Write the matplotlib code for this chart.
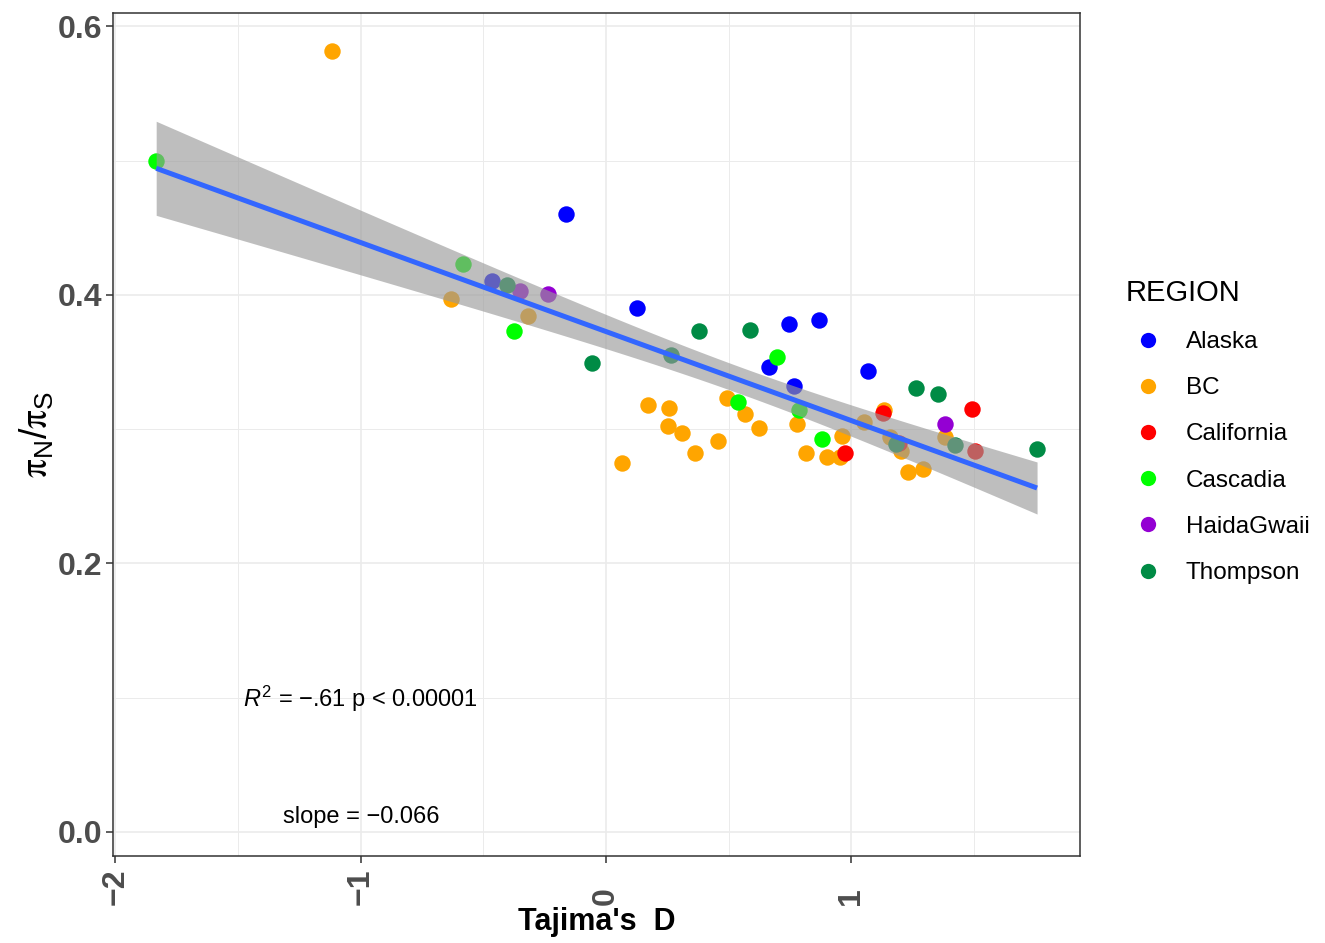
import matplotlib
matplotlib.use("Agg")
import matplotlib.pyplot as plt
from matplotlib.lines import Line2D
import numpy as np

plt.rcParams["font.family"] = ["Liberation Sans", "DejaVu Sans"]
plt.rcParams["mathtext.fontset"] = "custom"
plt.rcParams["mathtext.rm"] = "Liberation Sans"
plt.rcParams["mathtext.it"] = "Liberation Sans:italic"
plt.rcParams["mathtext.sf"] = "Liberation Sans"
plt.rcParams["mathtext.tt"] = "STIXGeneral"   # used only for the serif pi

# ---------------------------------------------------------------------------
# data (Tajima's D vs piN/piS)
REGIONS = ["Alaska", "BC", "California", "Cascadia", "HaidaGwaii", "Thompson"]
COLORS = ["#0000FF", "#FFA500", "#FF0000", "#00FF00", "#9400D3", "#008B45"]

alaska_x = [-0.163, 0.126, 0.665, 0.746, 0.868, 0.766, 1.068, -0.465]
alaska_y = [0.460, 0.390, 0.346, 0.378, 0.381, 0.332, 0.343, 0.410]

bc_x = [-1.117, -0.632, -0.318, 0.065, 0.171, 0.257, 0.253, 0.310, 0.363,
        0.457, 0.493, 0.567, 0.624, 0.779, 0.815, 0.901, 0.954, 0.962,
        1.052, 1.133, 1.158, 1.203, 1.231, 1.292, 1.382]
bc_y = [0.582, 0.397, 0.384, 0.275, 0.318, 0.316, 0.302, 0.297, 0.282,
        0.291, 0.323, 0.311, 0.301, 0.304, 0.282, 0.279, 0.279, 0.295,
        0.305, 0.314, 0.294, 0.284, 0.268, 0.270, 0.294]

california_x = [0.974, 1.129, 1.492, 1.504, 1.195]
california_y = [0.282, 0.312, 0.315, 0.284, 0.290]

cascadia_x = [-1.834, -0.583, -0.375, 0.697, 0.538, 0.787, 0.881]
cascadia_y = [0.500, 0.423, 0.373, 0.354, 0.320, 0.314, 0.293]

haida_x = [-0.351, -0.236, 1.382]
haida_y = [0.403, 0.401, 0.304]

thompson_x = [-0.404, -0.057, 0.265, 0.379, 0.587, 1.264, 1.353, 1.423,
              1.757, 1.182]
thompson_y = [0.407, 0.349, 0.355, 0.373, 0.374, 0.331, 0.326, 0.288,
              0.285, 0.289]

GROUPS_X = [alaska_x, bc_x, california_x, cascadia_x, haida_x, thompson_x]
GROUPS_Y = [alaska_y, bc_y, california_y, cascadia_y, haida_y, thompson_y]

X_TICKS = [-2, -1, 0, 1]
Y_TICKS = [0.0, 0.2, 0.4, 0.6]

# ---------------------------------------------------------------------------
fig = plt.figure(figsize=(13.25, 9.43), dpi=100)
ax = fig.add_axes([113 / 1325, 87 / 943, (1080 - 113) / 1325, (856 - 13) / 943])

for gx, gy, col in zip(GROUPS_X, GROUPS_Y, COLORS):
    ax.scatter(gx, gy, s=140, color=col, linewidths=0, zorder=2)

# linear fit with 95% confidence band (geom_smooth(method="lm"))
x_all = np.concatenate([np.asarray(g, float) for g in GROUPS_X])
y_all = np.concatenate([np.asarray(g, float) for g in GROUPS_Y])
n = len(x_all)
slope, icpt = np.polyfit(x_all, y_all, 1)
resid = y_all - (slope * x_all + icpt)
s = np.sqrt(np.sum(resid ** 2) / (n - 2))
sxx = np.sum((x_all - x_all.mean()) ** 2)
xs = np.linspace(x_all.min(), x_all.max(), 100)
fit = slope * xs + icpt
se = s * np.sqrt(1 / n + (xs - x_all.mean()) ** 2 / sxx)
t_crit = 2.005
ax.fill_between(xs, fit - t_crit * se, fit + t_crit * se, color="#999999",
                alpha=0.63, linewidth=0, zorder=3)
ax.plot(xs, fit, color="#3366FF", lw=3.6, zorder=4, solid_capstyle="butt")

ax.text(-1.0, 0.099, r"$R^2$ = −.61 p < 0.00001", ha="center", va="center",
        fontsize=17, zorder=5)
ax.text(-1.0, 0.011, "slope = −0.066", ha="center", va="center",
        fontsize=17, zorder=5)

# axes, grid (theme_bw look)
ax.set_xlim(-2.010, 1.932)
ax.set_ylim(-0.018, 0.610)
ax.set_xticks(X_TICKS)
ax.set_yticks(Y_TICKS)
ax.set_xticks([-1.5, -0.5, 0.5, 1.5], minor=True)
ax.set_yticks([0.1, 0.3, 0.5], minor=True)
ax.set_yticklabels([f"{v:.1f}" for v in Y_TICKS])
ax.set_xticklabels([str(v).replace("-", "−") for v in X_TICKS])
ax.grid(which="major", color="#EBEBEB", lw=1.2, zorder=0)
ax.grid(which="minor", color="#EBEBEB", lw=0.7, zorder=0)
ax.set_axisbelow(True)
for sp in ax.spines.values():
    sp.set_color("#333333")
    sp.set_linewidth(1.1)
ax.tick_params(which="major", length=5, width=1.1, color="#333333",
               labelcolor="#4D4D4D", labelsize=23)
ax.tick_params(which="minor", length=0)
ax.tick_params(axis="y", pad=3)
ax.tick_params(axis="x", pad=30)
for lab in ax.get_xticklabels() + ax.get_yticklabels():
    lab.set_fontweight("bold")
for lab in ax.get_xticklabels():
    lab.set_rotation(90)
    lab.set_va("bottom")

ax.set_xlabel("Tajima's  D", fontsize=22, fontweight="bold",
              family=["Liberation Sans Narrow", "Liberation Sans"], labelpad=2)
ax.set_ylabel(r"$\mathtt{\pi}_\mathsf{N}/\mathtt{\pi}_\mathsf{S}$", fontsize=27,
              labelpad=1)

# legend
handles = [Line2D([], [], ls="none", marker="o", markersize=11,
                  markerfacecolor=c, markeredgewidth=0) for c in COLORS]
leg = fig.legend(handles, REGIONS, title="REGION", loc="upper left",
                 bbox_to_anchor=(1104 / 1325, 1 - 257 / 943), frameon=False,
                 fontsize=17.5, title_fontsize=21, labelspacing=0.995,
                 handletextpad=0.67, handlelength=1.8, alignment="left")

fig.savefig("out.png", dpi=100)
